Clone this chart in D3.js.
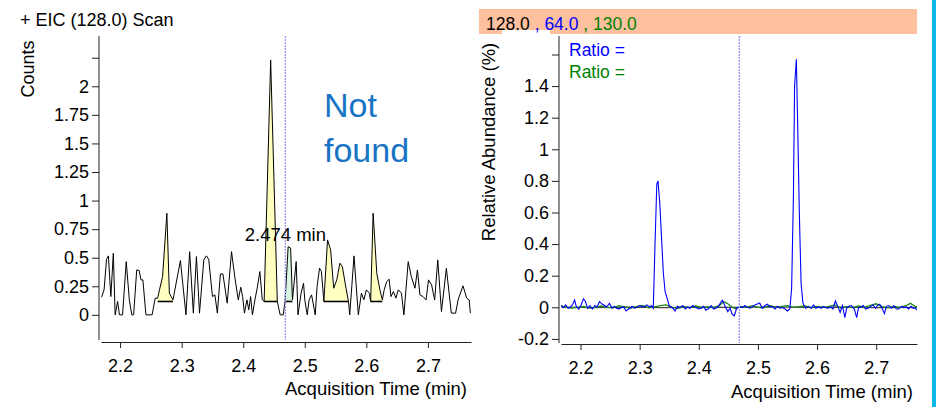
<!DOCTYPE html>
<html>
<head>
<meta charset="utf-8">
<script src="https://cdn.jsdelivr.net/npm/d3@7/dist/d3.min.js"></script>
<style>
  body { margin: 0; background: #fff; }
  svg { display: block; font-family: "Liberation Sans", Arial, sans-serif; }
  .tick text { font-size: 18px; fill: #000; }
  .tick line, .domain { stroke: #222; }
</style>
</head>
<body>
<svg id="chart" width="936" height="407"></svg>
<script>
// EIC trace of the 128.0 scan, [time (min), counts]
var eicTrace = [
  [2.170,0.155],[2.174,0.219],[2.178,0.487],[2.181,0.516],[2.185,0.160],[2.189,0.539],[2.192,0],
  [2.196,0.117],[2.199,0],[2.204,0],[2.210,0.466],[2.215,0.131],[2.219,0],[2.222,0],[2.227,0.393],
  [2.231,0.388],[2.234,0.306],[2.237,0.306],[2.242,0],[2.252,0],[2.257,0.146],[2.261,0.146],
  [2.264,0.219],[2.269,0.335],[2.276,0.889],[2.280,0.190],[2.283,0.160],[2.286,0.131],[2.289,0.219],
  [2.298,0.475],[2.307,0],[2.313,0.553],[2.319,0.015],[2.324,0.510],[2.329,0.015],[2.336,0.481],
  [2.340,0.516],[2.344,0.487],[2.350,0.160],[2.354,0.175],[2.358,0.015],[2.363,0.358],[2.367,0.358],
  [2.374,0.102],[2.381,0.553],[2.387,0.306],[2.392,0.131],[2.396,0.242],[2.399,0.160],[2.402,0.015],
  [2.406,0.131],[2.409,0.044],[2.412,0.160],[2.415,0],[2.419,0.131],[2.423,0.242],[2.427,0.379],
  [2.431,0.131],[2.434,0.117],[2.4446,2.23],[2.4554,0.117],[2.460,0],[2.465,0],[2.468,0.117],
  [2.473,0.597],[2.477,0.583],[2.480,0.131],[2.486,0.466],[2.489,0],[2.494,0.190],[2.498,0.277],
  [2.500,0.131],[2.504,0],[2.507,0.131],[2.511,0.175],[2.517,0],[2.520,0.248],[2.524,0.408],
  [2.527,0.379],[2.531,0.117],[2.537,0.656],[2.542,0.568],[2.547,0.233],[2.552,0.306],[2.557,0.452],
  [2.561,0.423],[2.567,0.233],[2.571,0.117],[2.573,0],[2.580,0.516],[2.587,0],[2.592,0.190],
  [2.596,0.131],[2.600,0.219],[2.605,0.190],[2.607,0.117],[2.611,0.889],[2.617,0.364],[2.622,0.219],
  [2.626,0.131],[2.629,0.219],[2.633,0.291],[2.637,0.312],[2.640,0.160],[2.644,0.204],[2.648,0.146],
  [2.652,0.219],[2.657,0.190],[2.661,0],[2.668,0.466],[2.673,0.335],[2.679,0.233],[2.683,0.393],
  [2.687,0.175],[2.692,0.160],[2.697,0.131],[2.701,0.306],[2.706,0.262],[2.711,0.131],[2.716,0.481],
  [2.722,0.029],[2.730,0.408],[2.738,0.015],[2.745,0.015],[2.749,0.131],[2.757,0.254],[2.763,0.146],
  [2.767,0.131],[2.769,0.015]
];

// integrated peak windows [start, end] and their fills
var peakStart = [2.260, 2.433, 2.467, 2.530, 2.606];
var peakEnd   = [2.287, 2.456, 2.481, 2.572, 2.627];
var peakFill  = ["#ffffc0", "#ffffc0", "#d8f5e0", "#ffffc0", "#ffffc0"];
var peakBase = 0.117;

var markerTime = 2.4685;
var markerLabel = "2.474 min";

// qualifier ratios, relative abundance (%)
var ratioBlue = [
  [2.167,0.011],[2.171,-0.002],[2.175,0.015],[2.179,-0.006],[2.183,0.002],[2.187,0.019],[2.190,0.046],
  [2.193,0.004],[2.197,-0.011],[2.201,0.015],[2.205,0.053],[2.208,0.040],[2.212,-0.006],[2.216,0.011],
  [2.220,-0.011],[2.224,0.011],[2.228,0.002],[2.232,0.036],[2.237,0.019],[2.241,0.011],[2.244,0.002],
  [2.249,0.025],[2.253,-0.006],[2.257,0.006],[2.261,-0.006],[2.265,-0.011],[2.269,-0.002],[2.273,0.002],
  [2.277,-0.023],[2.281,-0.011],[2.284,-0.006],[2.287,0.006],[2.291,-0.006],[2.295,-0.002],[2.300,0.011],
  [2.304,0.002],[2.309,0.006],[2.312,0.015],[2.317,0.002],[2.320,0.011],[2.323,-0.006],
  [2.326,0.40],[2.329,0.78],[2.331,0.80],[2.334,0.66],[2.337,0.44],[2.340,0.22],[2.343,0.10],[2.347,0.05],
  [2.350,0.011],[2.356,-0.006],[2.360,-0.023],[2.364,0.006],[2.368,-0.002],[2.373,0.011],[2.377,-0.011],
  [2.381,0.002],[2.385,-0.006],[2.390,0.011],[2.395,-0.002],[2.400,-0.011],[2.404,-0.006],[2.408,0.006],
  [2.412,-0.019],[2.417,-0.006],[2.421,0.011],[2.425,-0.011],[2.429,-0.006],[2.434,0.011],[2.438,0.036],
  [2.440,0.044],[2.444,0.011],[2.449,-0.027],[2.453,-0.006],[2.456,-0.040],[2.460,-0.055],[2.464,-0.006],
  [2.470,0.004],[2.474,-0.002],[2.478,0.011],[2.483,-0.002],[2.487,-0.006],[2.491,0.006],[2.495,0.015],
  [2.500,0.023],[2.503,0.027],[2.507,-0.006],[2.512,0.011],[2.516,0.019],[2.520,0.002],[2.524,0.006],
  [2.529,-0.011],[2.533,0.006],[2.537,-0.006],[2.541,-0.002],[2.546,-0.011],[2.550,-0.023],[2.554,-0.011],
  [2.557,0.12],[2.560,0.70],[2.562,1.40],[2.565,1.57],[2.567,1.20],[2.570,0.60],[2.573,0.15],[2.576,0.03],
  [2.578,0.011],[2.581,-0.006],[2.585,0.006],[2.590,-0.006],[2.594,0.015],[2.598,-0.006],[2.602,0.002],
  [2.607,-0.006],[2.610,0.006],[2.614,-0.002],[2.619,-0.006],[2.623,0.002],[2.627,-0.011],[2.631,0.040],
  [2.635,0.006],[2.639,-0.032],[2.643,0.011],[2.647,-0.066],[2.650,-0.006],[2.654,0.006],[2.658,0.011],
  [2.663,-0.011],[2.667,-0.066],[2.670,-0.002],[2.674,0.002],[2.678,0.011],[2.682,-0.011],[2.686,-0.006],
  [2.691,0.006],[2.695,0.015],[2.699,-0.006],[2.702,0.011],[2.706,0.019],[2.710,-0.006],[2.714,-0.040],
  [2.717,0.006],[2.721,0.011],[2.726,-0.006],[2.730,0.011],[2.734,-0.011],[2.738,-0.011],[2.743,0.006],
  [2.747,-0.002],[2.751,0.002],[2.755,-0.011],[2.759,0.006],[2.762,-0.006],[2.766,-0.006],[2.770,-0.019]
];
var ratioGreen = [
  [2.167,0.010],[2.175,0.000],[2.185,-0.005],[2.195,0.000],[2.205,0.005],[2.215,-0.005],[2.225,0.000],
  [2.235,0.008],[2.245,0.000],[2.255,-0.004],[2.265,0.010],[2.275,0.002],[2.285,-0.005],[2.295,0.006],
  [2.305,0.012],[2.315,-0.004],[2.325,0.003],[2.335,0.010],[2.345,0.015],[2.355,0.000],[2.365,-0.006],
  [2.375,0.004],[2.385,-0.003],[2.395,0.008],[2.405,-0.002],[2.415,0.003],[2.425,-0.004],[2.435,0.012],
  [2.442,0.035],[2.448,0.025],[2.455,0.005],[2.462,-0.010],[2.470,0.005],[2.480,0.000],[2.490,0.010],
  [2.500,0.000],[2.510,-0.004],[2.520,0.012],[2.530,0.000],[2.540,0.006],[2.550,0.010],[2.560,0.000],
  [2.570,0.004],[2.580,0.008],[2.590,-0.003],[2.600,0.005],[2.610,0.000],[2.620,0.006],[2.630,0.015],
  [2.640,-0.005],[2.650,0.004],[2.660,-0.002],[2.670,0.008],[2.680,0.000],[2.690,0.012],[2.700,0.022],
  [2.710,0.004],[2.720,-0.003],[2.730,0.006],[2.740,0.000],[2.750,0.010],[2.758,0.025],[2.765,0.008],
  [2.770,0.000]
];
var ratioBase = [
  [2.167,0.002],[2.220,-0.002],[2.280,0.001],[2.340,-0.002],[2.400,0.001],[2.460,-0.001],
  [2.520,0.002],[2.580,-0.001],[2.640,0.001],[2.700,-0.002],[2.770,0.000]
];

// ticks
var xTickValues = [2.2, 2.3, 2.4, 2.5, 2.6, 2.7];
var xTickLabels = ["2.2", "2.3", "2.4", "2.5", "2.6", "2.7"];
var countTickValues = [0, 0.25, 0.5, 0.75, 1, 1.25, 1.5, 1.75, 2, 2.25];
var countTickLabels = ["0", "0.25", "0.5", "0.75", "1", "1.25", "1.5", "1.75", "2", ""];
var abundTickValues = [-0.2, 0, 0.2, 0.4, 0.6, 0.8, 1, 1.2, 1.4, 1.6];
var abundTickLabels = ["-0.2", "0", "0.2", "0.4", "0.6", "0.8", "1", "1.2", "1.4", ""];

// header ions and their colours
var ionLabels = ["128.0", " , 64.0", " , 130.0"];
var ionColors = ["#000000", "#0000ff", "#008000"];

var svg = d3.select("#chart");

function labels(values, texts) {
  return function(d) { return texts[values.indexOf(d)]; };
}

// ---------- LEFT PANEL: EIC ----------
var xL = d3.scaleLinear().domain([2.169, 2.770]).range([101, 471]);
var yL = d3.scaleLinear().domain([-0.22, 2.44]).range([340, 36]);

svg.append("clipPath").attr("id", "clipL")
  .append("rect").attr("x", 101).attr("y", 36).attr("width", 370).attr("height", 304);

var gL = svg.append("g").attr("clip-path", "url(#clipL)");

var lineL = d3.line().x(d => xL(d[0])).y(d => yL(d[1]));

// filled peaks with baseline
peakStart.forEach(function(s, i) {
  var pts = eicTrace.filter(d => d[0] >= s && d[0] <= peakEnd[i]);
  var area = d3.area().x(d => xL(d[0])).y0(yL(peakBase)).y1(d => yL(d[1]));
  gL.append("path").attr("d", area(pts)).attr("fill", peakFill[i]).attr("stroke", "none");
  gL.append("line")
    .attr("x1", xL(pts[0][0])).attr("x2", xL(pts[pts.length - 1][0]))
    .attr("y1", yL(peakBase)).attr("y2", yL(peakBase))
    .attr("stroke", "#000").attr("stroke-width", 1.6);
});

gL.append("path").attr("d", lineL(eicTrace))
  .attr("fill", "none").attr("stroke", "#000").attr("stroke-width", 1);

svg.append("line")
  .attr("x1", xL(markerTime)).attr("x2", xL(markerTime)).attr("y1", 36).attr("y2", 340)
  .attr("stroke", "#9c9cf0").attr("stroke-width", 1.4).attr("stroke-dasharray", "2,1");

svg.append("g").attr("transform", "translate(99,0)")
  .call(d3.axisLeft(yL).tickValues(countTickValues).tickFormat(labels(countTickValues, countTickLabels))
    .tickSize(7).tickSizeOuter(0).tickPadding(3))
  .call(g => g.select(".domain").attr("d", "M0,36V340"));

svg.append("g").attr("transform", "translate(0,342)")
  .call(d3.axisBottom(xL).tickValues(xTickValues).tickFormat(labels(xTickValues, xTickLabels))
    .tickSize(6).tickSizeOuter(0).tickPadding(11));

svg.append("text").attr("x", 20).attr("y", 26).attr("font-size", 18).text("+ EIC (128.0) Scan");
svg.append("text").attr("transform", "translate(34,69) rotate(-90)")
  .attr("text-anchor", "middle").attr("font-size", 18).text("Counts");
svg.append("text").attr("x", 467).attr("y", 395).attr("text-anchor", "end")
  .attr("font-size", 18.5).text("Acquisition Time (min)");
svg.append("text").attr("x", xL(markerTime)).attr("y", 241).attr("text-anchor", "middle")
  .attr("font-size", 18.5).text(markerLabel);

var nf = svg.append("text").attr("font-size", 34).attr("fill", "#1874c4");
nf.append("tspan").attr("x", 324).attr("y", 117).text("Not");
nf.append("tspan").attr("x", 324).attr("y", 162).text("found");

// ---------- RIGHT PANEL: qualifier ratios ----------
var xR = d3.scaleLinear().domain([2.167, 2.769]).range([561, 917]);
var yR = d3.scaleLinear().domain([-0.226, 1.717]).range([343, 36]);

svg.append("rect").attr("x", 479).attr("y", 9).attr("width", 438).attr("height", 25).attr("fill", "#ffc0a0");
svg.append("rect").attr("x", 502).attr("y", 30).attr("width", 48).attr("height", 4).attr("fill", "#fff");

var hdr = svg.append("text").attr("x", 486).attr("y", 30).attr("font-size", 17.5).attr("xml:space", "preserve");
ionLabels.forEach(function(t, i) {
  hdr.append("tspan").attr("fill", ionColors[i]).text(t);
});

svg.append("rect").attr("x", 932).attr("y", 0).attr("width", 4).attr("height", 407).attr("fill", "#10b8e8");

svg.append("clipPath").attr("id", "clipR")
  .append("rect").attr("x", 561).attr("y", 36).attr("width", 356).attr("height", 307);

var gR = svg.append("g").attr("clip-path", "url(#clipR)");
var lineR = d3.line().x(d => xR(d[0])).y(d => yR(d[1]));

gR.append("path").attr("d", lineR(ratioBase)).attr("fill", "none").attr("stroke", "#444").attr("stroke-width", 1.2);
gR.append("path").attr("d", lineR(ratioGreen)).attr("fill", "none").attr("stroke", "#1a8a1a").attr("stroke-width", 1.3);
gR.append("path").attr("d", lineR(ratioBlue)).attr("fill", "none").attr("stroke", "#0000ff").attr("stroke-width", 1.1);

svg.append("line")
  .attr("x1", xR(markerTime)).attr("x2", xR(markerTime)).attr("y1", 36).attr("y2", 343)
  .attr("stroke", "#9c9cf0").attr("stroke-width", 1.4).attr("stroke-dasharray", "2,1");

svg.append("g").attr("transform", "translate(559,0)")
  .call(d3.axisLeft(yR).tickValues(abundTickValues).tickFormat(labels(abundTickValues, abundTickLabels))
    .tickSize(7).tickSizeOuter(0).tickPadding(3))
  .call(g => g.select(".domain").attr("d", "M0,36V343"));

svg.append("g").attr("transform", "translate(0,344)")
  .call(d3.axisBottom(xR).tickValues(xTickValues).tickFormat(labels(xTickValues, xTickLabels))
    .tickSize(6).tickSizeOuter(0).tickPadding(11));

svg.append("text").attr("transform", "translate(495,142) rotate(-90)")
  .attr("text-anchor", "middle").attr("font-size", 18.5).text("Relative Abundance (%)");
svg.append("text").attr("x", 913).attr("y", 398).attr("text-anchor", "end")
  .attr("font-size", 18.5).text("Acquisition Time (min)");

svg.append("text").attr("x", 569).attr("y", 56).attr("font-size", 17.5).attr("fill", "#0000ff").text("Ratio =");
svg.append("text").attr("x", 569).attr("y", 78).attr("font-size", 17.5).attr("fill", "#008000").text("Ratio =");
</script>
</body>
</html>
